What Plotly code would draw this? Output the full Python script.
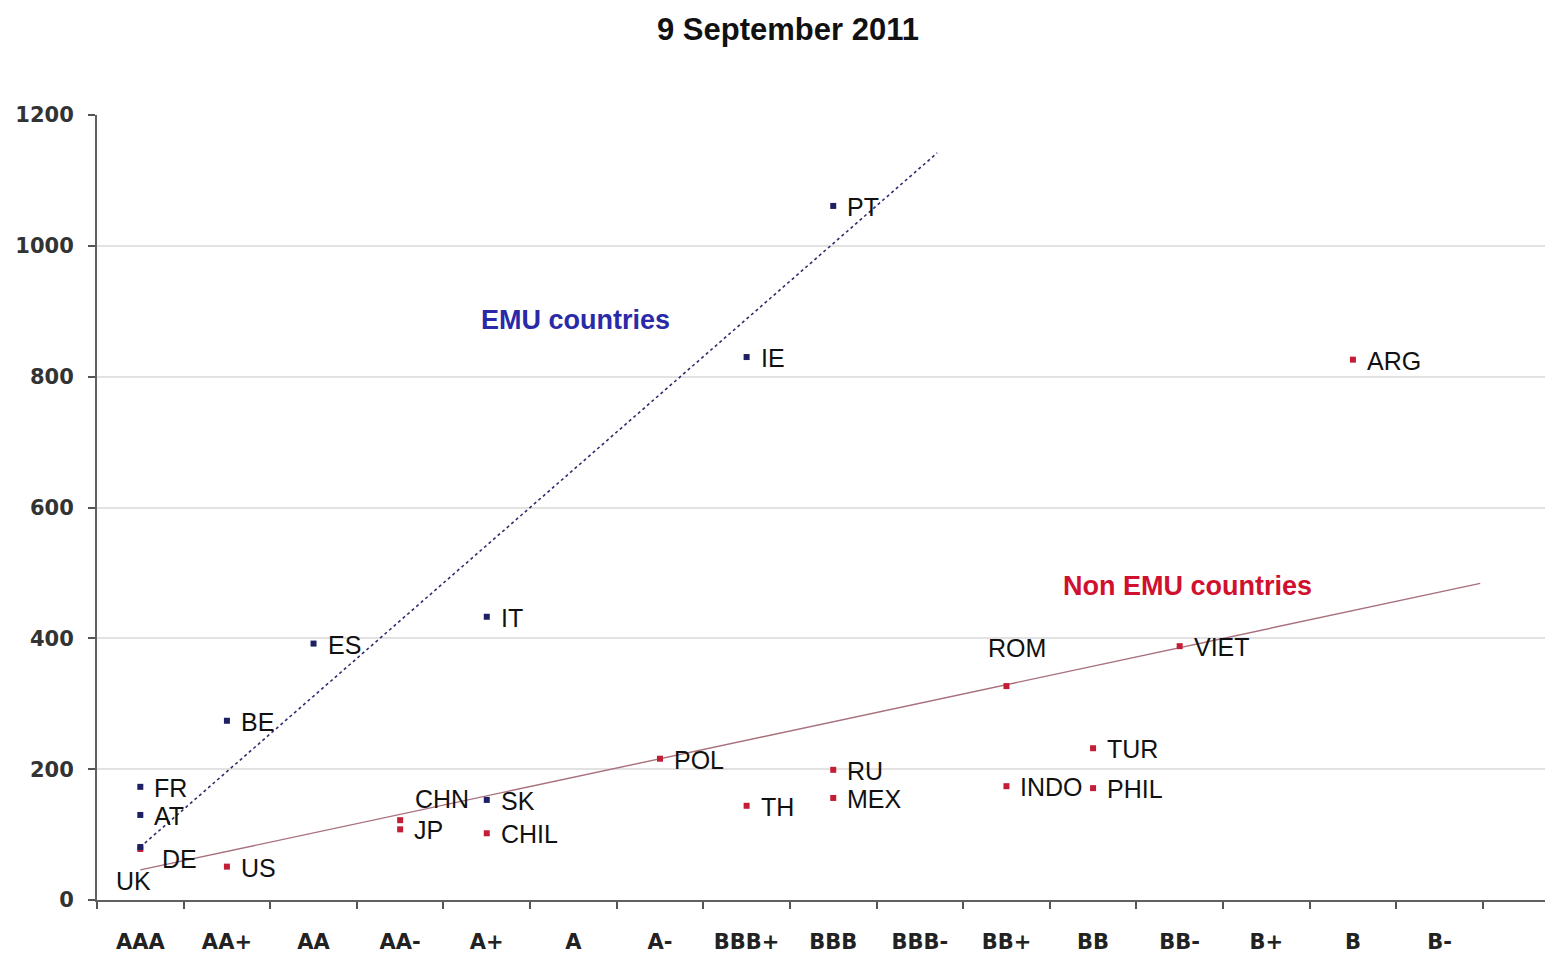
import plotly.graph_objects as go

# ---------------- data ----------------
ratings = ["AAA", "AA+", "AA", "AA-", "A+", "A", "A-", "BBB+", "BBB", "BBB-",
           "BB+", "BB", "BB-", "B+", "B", "B-"]

emu_countries = ["DE", "FR", "AT", "BE", "ES", "IT", "SK", "IE", "PT"]
emu_ratings = ["AAA", "AAA", "AAA", "AA+", "AA", "A+", "A+", "BBB+", "BBB"]
emu_spreads = [81, 173, 130, 274, 392, 433, 153, 830, 1061]

non_countries = ["UK", "US", "CHN", "JP", "CHIL", "POL", "TH", "RU", "MEX",
                 "ROM", "INDO", "TUR", "PHIL", "VIET", "ARG"]
non_ratings = ["AAA", "AA+", "AA-", "AA-", "A+", "A-", "BBB+", "BBB", "BBB",
               "BB+", "BB+", "BB", "BB", "BB-", "B"]
non_spreads = [78, 51, 122, 108, 102, 216, 144, 199, 156, 327, 174, 232, 171, 388, 826]

# trend lines (position on rating scale, spread)
emu_trend_pos = [0, 9.2]
emu_trend_vals = [81, 1142]
non_trend_pos = [0, 15.47]
non_trend_vals = [46, 484]

y_ticks = [0, 200, 400, 600, 800, 1000, 1200]

# ---------------- figure ----------------
pos = {r: i for i, r in enumerate(ratings)}
emu_x = [pos[r] for r in emu_ratings]
non_x = [pos[r] for r in non_ratings]

EMU_COL = "#1f1f63"
NON_COL = "#c41e36"

fig = go.Figure()

fig.add_trace(go.Scatter(x=non_trend_pos, y=non_trend_vals, mode="lines",
                         line=dict(color="#a8707c", width=1.4),
                         hoverinfo="skip", showlegend=False))
fig.add_trace(go.Scatter(x=emu_trend_pos, y=emu_trend_vals, mode="lines",
                         line=dict(color="#2e2e6e", width=1.6, dash="dot"),
                         hoverinfo="skip", showlegend=False))
fig.add_trace(go.Scatter(x=non_x, y=non_spreads, mode="markers",
                         marker=dict(symbol="square", size=6, color=NON_COL),
                         text=non_countries, showlegend=False))
fig.add_trace(go.Scatter(x=emu_x, y=emu_spreads, mode="markers",
                         marker=dict(symbol="square", size=6, color=EMU_COL),
                         text=emu_countries, showlegend=False))

# label placement styles (pixel offsets)
special = {
    "UK": dict(xshift=-7, yshift=-32, xanchor="center"),
    "DE": dict(xshift=20, yshift=-12, xanchor="left"),
    "CHN": dict(xshift=13, yshift=21, xanchor="left"),
    "ROM": dict(xshift=-20, yshift=38, xanchor="left"),
}
label_font = dict(family="Liberation Sans, Arial", size=25, color="#111111")
for names, xs, ys in ((emu_countries, emu_x, emu_spreads),
                      (non_countries, non_x, non_spreads)):
    for n, x, y in zip(names, xs, ys):
        st = special.get(n, dict(xshift=12, yshift=-1, xanchor="left"))
        fig.add_annotation(x=x, y=y, text=n, showarrow=False, font=label_font,
                           yanchor="middle", **st)

fig.add_annotation(x=5.02, y=887, text="<b>EMU countries</b>", showarrow=False,
                   font=dict(family="Liberation Sans, Arial", size=27, color="#2a2aa8"))
fig.add_annotation(x=12.09, y=480, text="<b>Non EMU countries</b>", showarrow=False,
                   font=dict(family="Liberation Sans, Arial", size=27, color="#d0102e"))

# the page body adds an 8px margin, so the figure is sized/offset for it
fig.update_layout(
    width=1545, height=946,
    margin=dict(l=89, r=0, t=107, b=54),
    paper_bgcolor="white", plot_bgcolor="white",
    title=dict(text="<b>9 September 2011</b>", x=780 / 1545, xanchor="center",
               y=1 - 21 / 946, yanchor="middle", yref="container",
               font=dict(family="Liberation Sans, Arial", size=31, color="#111111")),
    showlegend=False,
)

fig.update_xaxes(
    range=[-0.5, 16.31], tickmode="array", tickvals=list(range(len(ratings))),
    ticktext=ratings, ticks="", showgrid=False, zeroline=False,
    showline=True, linecolor="#606060", linewidth=2,
    tickfont=dict(family="DejaVu Sans", size=21, color="#222222", weight="bold"),
    ticklabelstandoff=22,
    minor=dict(ticks="outside", ticklen=7, tickwidth=2, tickcolor="#555555",
               tick0=-0.5, dtick=1, showgrid=False),
)
fig.update_yaxes(
    range=[0, 1200], tickmode="array", tickvals=y_ticks,
    ticktext=[str(v) for v in y_ticks],
    ticks="outside", ticklen=7, tickwidth=2, tickcolor="#555555",
    showgrid=True, gridcolor="#e2e2e2", gridwidth=1.5, zeroline=False,
    showline=True, linecolor="#606060", linewidth=2,
    tickfont=dict(family="DejaVu Sans", size=21, color="#333333", weight="bold"),
    ticklabelstandoff=10,
)

fig.write_html("out.html")
